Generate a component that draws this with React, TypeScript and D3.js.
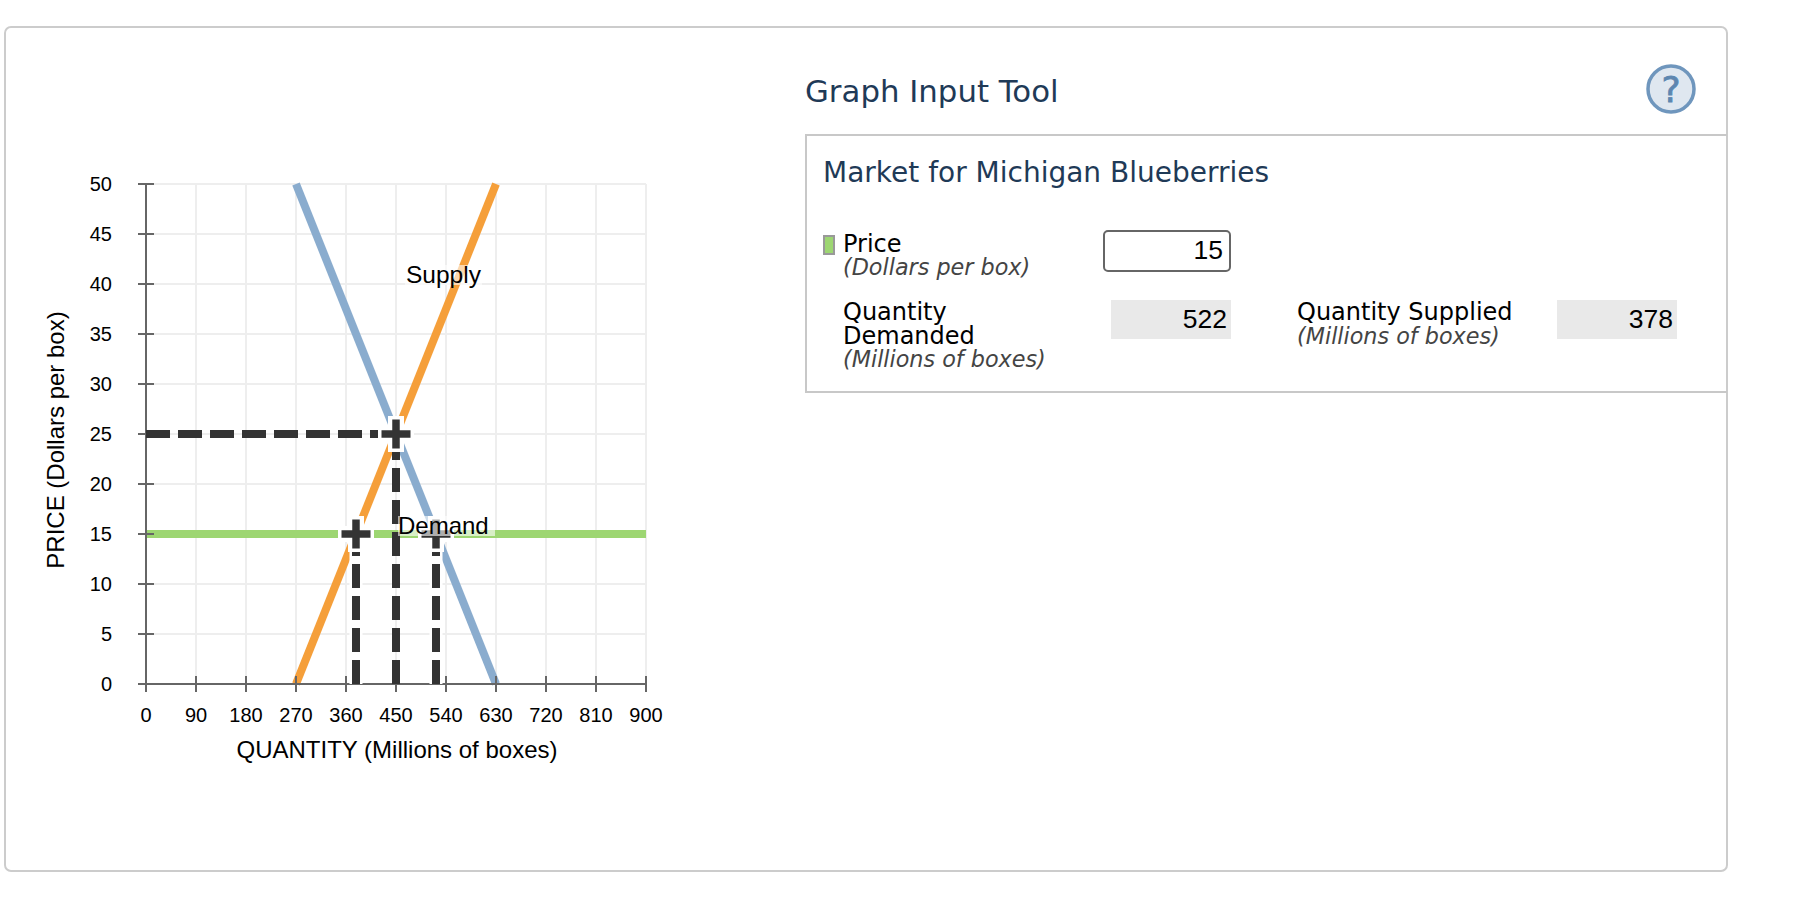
import React from "react";
import * as d3 from "d3";

const quantityTicks = [0, 90, 180, 270, 360, 450, 540, 630, 720, 810, 900];
const priceTicks = [0, 5, 10, 15, 20, 25, 30, 35, 40, 45, 50];
const supplyLine: [number, number][] = [[270, 0], [630, 50]];
const demandLine: [number, number][] = [[270, 50], [630, 0]];
const selectedPrice = 15;
const equilibrium: [number, number] = [450, 25];
const quantityDemanded = 522;
const quantitySupplied = 378;

const x = d3.scaleLinear().domain([0, 900]).range([146, 646]);
const y = d3.scaleLinear().domain([0, 50]).range([684, 184]);
const line = d3.line<[number, number]>().x((d) => x(d[0])).y((d) => y(d[1]));

const SANS = "'Liberation Sans', Arial, sans-serif";
const VERD = "'DejaVu Sans', Verdana, sans-serif";
const NAVY = "#1f3a57";
const DARK = "#333333";

function Cross({ q, p }: { q: number; p: number }) {
  const cx = x(q), cy = y(p);
  return (
    <g>
      <rect x={cx - 8} y={cy - 18} width={16} height={36} fill="#fff" />
      <rect x={cx - 18} y={cy - 8} width={36} height={16} fill="#fff" />
      <path d={`M${cx - 14.5},${cy}H${cx + 14.5}M${cx},${cy - 14.5}V${cy + 14.5}`} stroke={DARK} strokeWidth={7.5} fill="none" />
    </g>
  );
}

function Drop({ q, p, halo }: { q: number; p: number; halo: boolean }) {
  const d = `M${x(q)},${y(0)}V${y(p)}`;
  return (
    <g>
      {halo && <path d={d} stroke="#fff" strokeWidth={13} fill="none" />}
      <path d={d} stroke={DARK} strokeWidth={8} strokeDasharray="24 8" fill="none" />
    </g>
  );
}

export default function App() {
  return (
    <svg width={1808} height={898} style={{ position: "absolute", left: 0, top: 0 }}>
      <rect x={5} y={27} width={1722} height={844} rx={6} fill="#fff" stroke="#cccccc" strokeWidth={2} />

      {quantityTicks.map((t) => (
        <line key={t} x1={x(t)} x2={x(t)} y1={y(50)} y2={y(0)} stroke="#eeeeee" strokeWidth={2} />
      ))}
      {priceTicks.map((t) => (
        <line key={t} x1={x(0)} x2={x(900)} y1={y(t)} y2={y(t)} stroke="#eeeeee" strokeWidth={2} />
      ))}

      <path d={line(demandLine)!} stroke="#8aacce" strokeWidth={8} fill="none" />
      <path d={line(supplyLine)!} stroke="#f59f3a" strokeWidth={8} fill="none" />

      <path d={`M${x(0)},${y(selectedPrice)}H${x(900)}`} stroke="#9dd672" strokeWidth={8} fill="none" />

      <line x1={x(0)} x2={x(900)} y1={y(0)} y2={y(0)} stroke="#666666" strokeWidth={2} />
      <line x1={x(0)} x2={x(0)} y1={y(0)} y2={y(50)} stroke="#666666" strokeWidth={2} />
      {quantityTicks.map((t) => (
        <g key={t}>
          <line x1={x(t)} x2={x(t)} y1={y(0) - 8} y2={y(0) + 8} stroke="#666666" strokeWidth={2} />
          <text x={x(t)} y={722} textAnchor="middle" fontFamily={SANS} fontSize={20} fill="#000">{t}</text>
        </g>
      ))}
      {priceTicks.map((t) => (
        <g key={t}>
          <line x1={x(0) - 8} x2={x(0) + 8} y1={y(t)} y2={y(t)} stroke="#666666" strokeWidth={2} />
          <text x={112} y={y(t) + 7} textAnchor="end" fontFamily={SANS} fontSize={20} fill="#000">{t}</text>
        </g>
      ))}

      <text x={397} y={758} textAnchor="middle" fontFamily={SANS} fontSize={24} fill="#000">QUANTITY (Millions of boxes)</text>
      <text transform="translate(64,440) rotate(-90)" textAnchor="middle" fontFamily={SANS} fontSize={24} fill="#000">PRICE (Dollars per box)</text>

      <Drop q={quantityDemanded} p={selectedPrice} halo />
      <Drop q={quantitySupplied} p={selectedPrice} halo />
      <Drop q={equilibrium[0]} p={equilibrium[1]} halo={false} />
      <path d={`M${x(0)},${y(equilibrium[1])}H${x(equilibrium[0])}`} stroke={DARK} strokeWidth={8} strokeDasharray="24 8" fill="none" />
      <Cross q={quantitySupplied} p={selectedPrice} />
      <Cross q={quantityDemanded} p={selectedPrice} />
      <Cross q={equilibrium[0]} p={equilibrium[1]} />

      <rect x={405} y={265} width={77} height={20} fill="#fff" fillOpacity={0.6} />
      <text x={406} y={283} fontFamily={SANS} fontSize={24.5} fill="#000">Supply</text>
      <rect x={398} y={516} width={97} height={20} fill="#fff" fillOpacity={0.6} />
      <text x={398} y={534} fontFamily={SANS} fontSize={24} fill="#000">Demand</text>

      <text x={805} y={102} fontFamily={VERD} fontSize={30.8} fill={NAVY}>Graph Input Tool</text>
      <circle cx={1671} cy={89} r={23} fill="#dfe7f0" stroke="#6f96bd" strokeWidth={3.5} />
      <text x={1671} y={102} textAnchor="middle" fontFamily={VERD} fontSize={36} fill="#5d86b0" stroke="#5d86b0" strokeWidth={0.8}>?</text>

      <path d="M1727,135H806V392H1727" fill="none" stroke="#c8c8c8" strokeWidth={2} />
      <text x={823} y={182} fontFamily={VERD} fontSize={28} fill={NAVY}>Market for Michigan Blueberries</text>

      <rect x={824} y={236} width={10} height={18} fill="#9dd672" stroke="#999999" strokeWidth={2} />
      <text x={843} y={252} fontFamily={VERD} fontSize={24} fill="#000">Price</text>
      <text x={843} y={275} fontFamily={VERD} fontSize={22.3} fontStyle="italic" fill="#444">(Dollars per box)</text>
      <rect x={1104} y={231} width={126} height={40} rx={4} fill="#fff" stroke="#666666" strokeWidth={2} />
      <text x={1223} y={259} textAnchor="end" fontFamily={SANS} fontSize={26.5} fill="#000">{selectedPrice}</text>

      <text x={843} y={320} fontFamily={VERD} fontSize={24} fill="#000">Quantity</text>
      <text x={843} y={344} fontFamily={VERD} fontSize={24} fill="#000">Demanded</text>
      <text x={843} y={367} fontFamily={VERD} fontSize={22.3} fontStyle="italic" fill="#444">(Millions of boxes)</text>
      <rect x={1111} y={300} width={120} height={39} fill="#e9e9e9" />
      <text x={1227} y={328} textAnchor="end" fontFamily={SANS} fontSize={26.5} fill="#000">{quantityDemanded}</text>

      <text x={1297} y={320} fontFamily={VERD} fontSize={24} fill="#000">Quantity Supplied</text>
      <text x={1297} y={344} fontFamily={VERD} fontSize={22.3} fontStyle="italic" fill="#444">(Millions of boxes)</text>
      <rect x={1557} y={300} width={120} height={39} fill="#e9e9e9" />
      <text x={1673} y={328} textAnchor="end" fontFamily={SANS} fontSize={26.5} fill="#000">{quantitySupplied}</text>
    </svg>
  );
}
